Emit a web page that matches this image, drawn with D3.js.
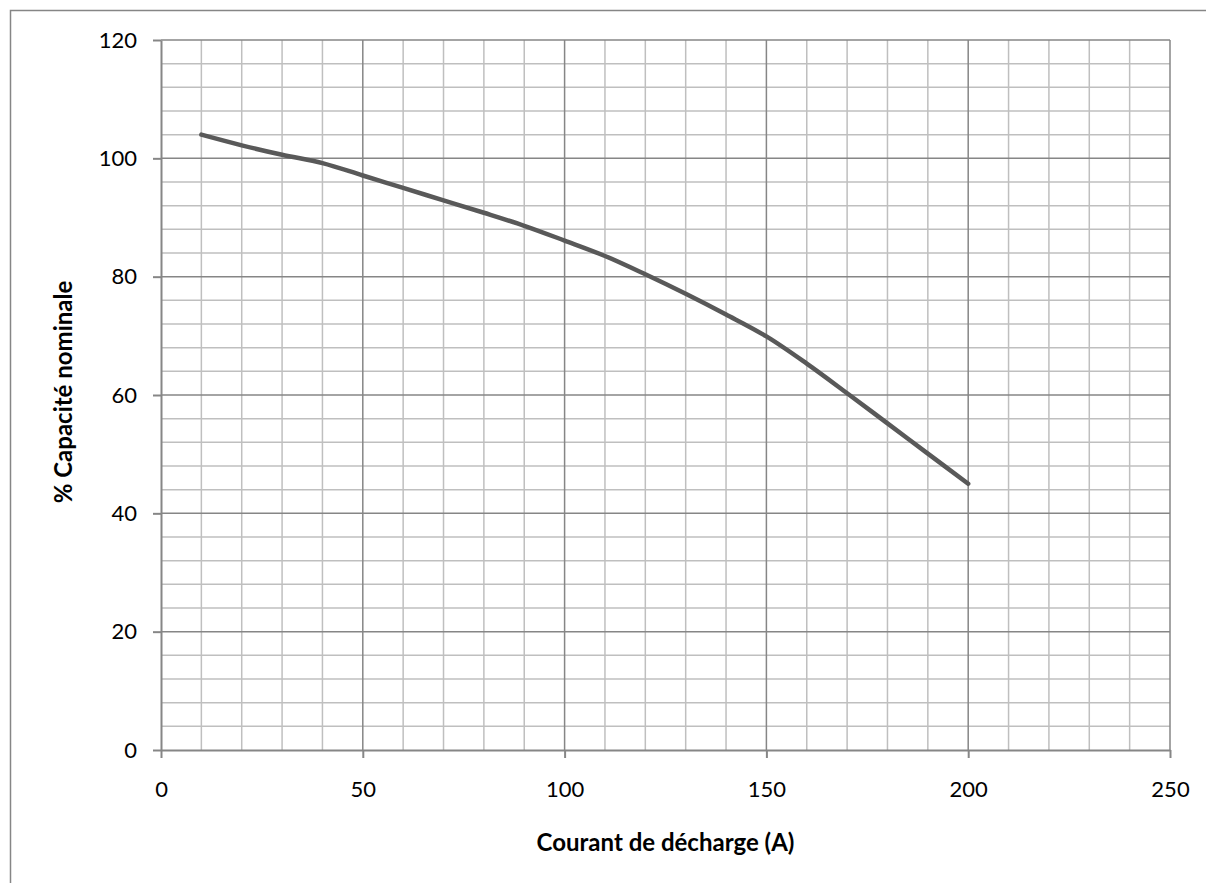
<!DOCTYPE html>
<html>
<head>
    <meta charset="utf-8">
    <script src="https://d3js.org/d3.v7.min.js"></script>
    <style>
        body { margin: 0; background: #fff; }
        text { font-family: "Lato", "Open Sans", sans-serif; fill: #000; }
    </style>
</head>
<body>
<div id="my_dataviz"></div>
<script>
    // data
    const courant = [10, 20, 30, 40, 50, 60, 70, 80, 90, 100, 110, 120, 130, 140, 150, 160, 170, 180, 190, 200];
    const capacite = [104, 102.2, 100.6, 99.2, 97.1, 95.0, 92.9, 90.8, 88.6, 86.1, 83.5, 80.4, 77.1, 73.6, 69.9, 65.3, 60.3, 55.2, 50.1, 45.0];
    const xTicks = [0, 50, 100, 150, 200, 250];
    const yTicks = [0, 20, 40, 60, 80, 100, 120];
    const xTitle = "Courant de décharge (A)";
    const yTitle = "% Capacité nominale";

    const data = courant.map((c, i) => ({x: c, y: capacite[i]}));

    const W = 1206, H = 883;
    const margin = {top: 40, right: 36, bottom: 133, left: 161},
        width = W - margin.left - margin.right,
        height = H - margin.top - margin.bottom;

    const root = d3.select("#my_dataviz")
        .append("svg")
        .attr("width", W)
        .attr("height", H);

    // outer chart frame (only left and top edges are in the picture)
    root.append("path")
        .attr("d", "M10.5," + H + "V10.5H" + W)
        .attr("fill", "none")
        .attr("stroke", "#868686")
        .attr("stroke-width", 1.5);

    const svg = root.append("g")
        .attr("transform", "translate(" + margin.left + "," + margin.top + ")");

    const x = d3.scaleLinear().domain([0, 250]).range([0, width]);
    const y = d3.scaleLinear().domain([0, 120]).range([height, 0]);

    // minor grid
    svg.append("g")
        .selectAll("line")
        .data(d3.range(0, 251, 10).filter(v => v % 50 !== 0))
        .enter().append("line")
        .attr("x1", d => x(d)).attr("x2", d => x(d))
        .attr("y1", 0).attr("y2", height)
        .attr("stroke", "#bfbfbf").attr("stroke-width", 1.5);
    svg.append("g")
        .selectAll("line")
        .data(d3.range(0, 121, 4).filter(v => v % 20 !== 0))
        .enter().append("line")
        .attr("x1", 0).attr("x2", width)
        .attr("y1", d => y(d)).attr("y2", d => y(d))
        .attr("stroke", "#bfbfbf").attr("stroke-width", 1.5);

    // major grid
    svg.append("g")
        .selectAll("line")
        .data(xTicks.slice(1))
        .enter().append("line")
        .attr("x1", d => x(d)).attr("x2", d => x(d))
        .attr("y1", 0).attr("y2", height)
        .attr("stroke", "#868686").attr("stroke-width", 1.5);
    svg.append("g")
        .selectAll("line")
        .data(yTicks.slice(1))
        .enter().append("line")
        .attr("x1", 0).attr("x2", width)
        .attr("y1", d => y(d)).attr("y2", d => y(d))
        .attr("stroke", "#868686").attr("stroke-width", 1.5);

    // X axis
    const gx = svg.append("g")
        .attr("transform", "translate(0," + height + ")")
        .call(d3.axisBottom(x).tickValues(xTicks).tickSize(8).tickPadding(23).tickSizeOuter(0));
    // Y axis
    const gy = svg.append("g")
        .call(d3.axisLeft(y).tickValues(yTicks).tickSize(8).tickPadding(16).tickSizeOuter(0));

    [gx, gy].forEach(g => {
        g.select(".domain").attr("stroke", "#868686").attr("stroke-width", 2);
        g.selectAll(".tick line").attr("stroke", "#868686").attr("stroke-width", 2);
        g.selectAll(".tick text").style("font-size", "22px").attr("fill", "#000");
    });

    // curve
    svg.append("path")
        .datum(data)
        .attr("fill", "none")
        .attr("stroke", "#595959")
        .attr("stroke-width", 4.5)
        .attr("stroke-linecap", "round")
        .attr("d", d3.line()
            .curve(d3.curveCatmullRom)
            .x(d => x(d.x))
            .y(d => y(d.y)));

    // axis titles
    root.append("text")
        .attr("x", margin.left + width / 2)
        .attr("y", 851)
        .attr("text-anchor", "middle")
        .style("font-size", "24px")
        .style("font-weight", "bold")
        .text(xTitle);
    root.append("text")
        .attr("transform", "translate(72,392) rotate(-90)")
        .attr("text-anchor", "middle")
        .style("font-size", "24px")
        .style("font-weight", "bold")
        .text(yTitle);
</script>
</body>
</html>
